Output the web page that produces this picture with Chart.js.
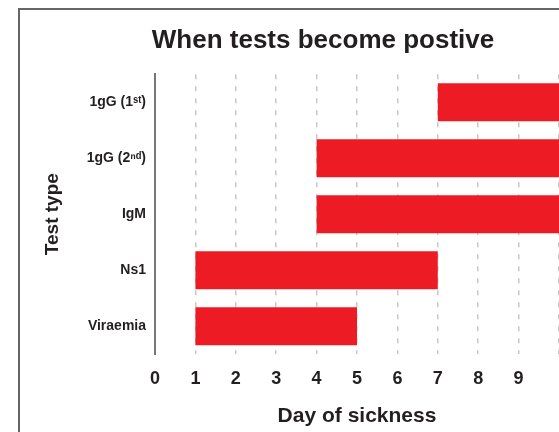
<!DOCTYPE html>
<html>
<head>
<meta charset="utf-8">
<script src="https://cdn.jsdelivr.net/npm/chart.js@4"></script>
<style>
  html, body { margin: 0; padding: 0; background: #fff; overflow: hidden; }
  canvas { display: block; }
</style>
</head>
<body>
<canvas id="chart" width="559" height="432"></canvas>
<script>
// values
const categories = ['1gG (1\u02E2\u1D57)', '1gG (2\u207F\u1D48)', 'IgM', 'Ns1', 'Viraemia'];
const startDay = [7, 4, 4, 1, 1];
const endDay = [10, 10, 10, 7, 5];
const dayLabels = ['0', '1', '2', '3', '4', '5', '6', '7', '8', '9'];

const FONT = '"Liberation Sans", Arial, Helvetica, sans-serif';
const TEXT = '#231f20';

// frame around the figure (only top and left edges are inside the picture)
const framePlugin = {
  id: 'frame',
  beforeDraw(chart) {
    const ctx = chart.ctx;
    ctx.save();
    ctx.strokeStyle = '#666';
    ctx.lineWidth = 2;
    ctx.beginPath();
    ctx.moveTo(19, 432);
    ctx.lineTo(19, 9);
    ctx.lineTo(559, 9);
    ctx.stroke();
    ctx.restore();
  }
};

// the title sits centred over the frame, not the canvas
const titleShift = {
  id: 'titleShift',
  afterLayout(chart) {
    if (chart.titleBlock) {
      chart.titleBlock.left = 87;
      chart.titleBlock.right = 559;
    }
  }
};

const ctx = document.getElementById('chart').getContext('2d');

new Chart(ctx, {
  type: 'bar',
  data: {
    labels: categories,
    datasets: [
      {
        label: 'Positive',
        data: categories.map((c, i) => [startDay[i], endDay[i]]),
        backgroundColor: '#ed1c24',
        borderWidth: 0,
        barPercentage: 0.68,
        categoryPercentage: 1.0,
      },
    ],
  },
  options: {
    indexAxis: 'y',
    responsive: false,
    animation: false,
    layout: {
      padding: { left: 30, right: 0, top: 10, bottom: 3 },
    },
    scales: {
      x: {
        min: 0,
        max: 10,
        grid: {
          color: '#c8c8c8',
          lineWidth: 1.5,
          drawTicks: false,
        },
        border: { display: false, dash: [5, 7] },
        ticks: {
          stepSize: 1,
          padding: 14,
          color: TEXT,
          font: { family: FONT, size: 18, weight: 'bold' },
          callback: (v) => (dayLabels[v] !== undefined ? dayLabels[v] : ''),
        },
        title: {
          display: true,
          text: 'Day of sickness',
          color: TEXT,
          font: { family: FONT, size: 21, weight: 'bold' },
          padding: { top: 0, bottom: 0 },
        },
        afterFit: (scale) => {
          scale.paddingLeft = 0;
          scale.paddingRight = 0;
        },
      },
      y: {
        grid: { display: false, drawTicks: false },
        border: { display: true, color: '#777', width: 2 },
        ticks: {
          padding: 9,
          color: TEXT,
          font: { family: FONT, size: 14, weight: 'bold' },
        },
        title: {
          display: true,
          text: 'Test type',
          color: TEXT,
          font: { family: FONT, size: 19, weight: 'bold' },
          padding: { top: 11, bottom: 0 },
        },
        afterFit: (scale) => {
          scale.width = 125;
        },
      },
    },
    plugins: {
      legend: { display: false },
      tooltip: { enabled: false },
      title: {
        display: true,
        text: 'When tests become postive',
        color: TEXT,
        font: { family: FONT, size: 26, weight: 'bold' },
        padding: { top: 15, bottom: 18 },
      },
    },
  },
  plugins: [framePlugin, titleShift],
});
</script>
</body>
</html>
